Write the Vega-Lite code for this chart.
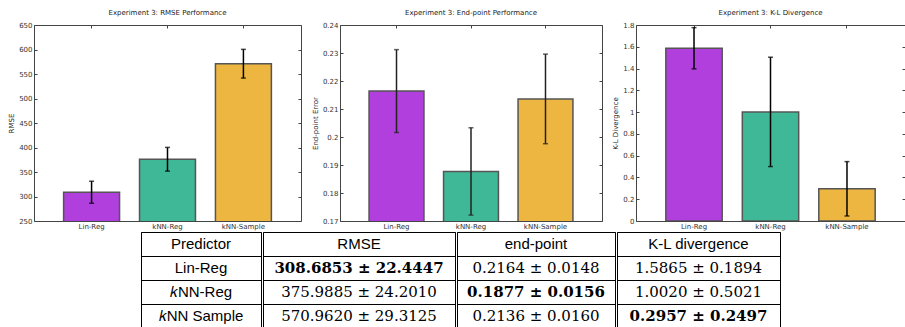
{
  "$schema": "https://vega.github.io/schema/vega-lite/v6.json",
  "padding": {"left": 7, "top": 8, "right": 0, "bottom": 0},
  "background": "white",
  "datasets": {
    "bars": [
      {"predictor": "Lin-Reg", "metric": "RMSE", "value": 308.6853, "err": 22.4447},
      {"predictor": "kNN-Reg", "metric": "RMSE", "value": 375.9885, "err": 24.2010},
      {"predictor": "kNN-Sample", "metric": "RMSE", "value": 570.9620, "err": 29.3125},
      {"predictor": "Lin-Reg", "metric": "endpoint", "value": 0.2164, "err": 0.0148},
      {"predictor": "kNN-Reg", "metric": "endpoint", "value": 0.1877, "err": 0.0156},
      {"predictor": "kNN-Sample", "metric": "endpoint", "value": 0.2136, "err": 0.0160},
      {"predictor": "Lin-Reg", "metric": "KL", "value": 1.5865, "err": 0.1894},
      {"predictor": "kNN-Reg", "metric": "KL", "value": 1.0020, "err": 0.5021},
      {"predictor": "kNN-Sample", "metric": "KL", "value": 0.2957, "err": 0.2497}
    ],
    "table": [
      {"col": "Predictor", "row": "head", "text": "Predictor", "best": false},
      {"col": "Predictor", "row": "r1", "text": "Lin-Reg", "best": false},
      {"col": "Predictor", "row": "r2", "text": "𝑘NN-Reg", "best": false},
      {"col": "Predictor", "row": "r3", "text": "𝑘NN Sample", "best": false},
      {"col": "RMSE", "row": "head", "text": "RMSE", "best": false},
      {"col": "RMSE", "row": "r1", "text": "308.6853 ± 22.4447", "best": true},
      {"col": "RMSE", "row": "r2", "text": "375.9885 ± 24.2010", "best": false},
      {"col": "RMSE", "row": "r3", "text": "570.9620 ± 29.3125", "best": false},
      {"col": "end-point", "row": "head", "text": "end-point", "best": false},
      {"col": "end-point", "row": "r1", "text": "0.2164 ± 0.0148", "best": false},
      {"col": "end-point", "row": "r2", "text": "0.1877 ± 0.0156", "best": true},
      {"col": "end-point", "row": "r3", "text": "0.2136 ± 0.0160", "best": false},
      {"col": "K-L divergence", "row": "head", "text": "K-L divergence", "best": false},
      {"col": "K-L divergence", "row": "r1", "text": "1.5865 ± 0.1894", "best": false},
      {"col": "K-L divergence", "row": "r2", "text": "1.0020 ± 0.5021", "best": false},
      {"col": "K-L divergence", "row": "r3", "text": "0.2957 ± 0.2497", "best": true}
    ]
  },
  "config": {
    "font": "DejaVu Sans",
    "view": {"stroke": "#444", "strokeWidth": 1},
    "title": {"fontSize": 7, "fontWeight": "normal", "font": "DejaVu Sans", "color": "#222", "offset": 5},
    "axis": {"labelFont": "DejaVu Sans", "labelFontSize": 7, "labelColor": "#333", "titleFont": "DejaVu Sans", "titleFontSize": 7, "titleFontWeight": "normal", "titleColor": "#222", "grid": false, "domain": false, "tickColor": "#444", "tickSize": -3, "labelPadding": 5}
  },
  "vconcat": [
    {
      "hconcat": [
        {
          "title": "Experiment 3: RMSE Performance",
          "width": 267, "height": 196,
          "data": {"name": "bars"},
          "transform": [{"filter": "datum.metric === 'RMSE'"}],
          "encoding": {
            "x": {"field": "predictor", "type": "nominal", "sort": ["Lin-Reg", "kNN-Reg", "kNN-Sample"], "scale": {"paddingInner": 0.263, "paddingOuter": 0.39}, "axis": {"title": null, "labelAngle": 0, "labelPadding": 4}}
          },
          "layer": [
            {"mark": {"type": "bar", "stroke": "#555", "strokeWidth": 1.5, "clip": true},
             "encoding": {
               "y": {"field": "value", "type": "quantitative", "scale": {"domain": [250, 650], "zero": false, "nice": false}, "axis": {"title": "RMSE", "values": [250, 300, 350, 400, 450, 500, 550, 600, 650], "format": "d"}},
               "color": {"field": "predictor", "type": "nominal", "scale": {"domain": ["Lin-Reg", "kNN-Reg", "kNN-Sample"], "range": ["#B03FDE", "#3FB897", "#EDB640"]}, "legend": null}
             }},
            {"mark": {"type": "errorbar", "ticks": {"size": 5}, "color": "black", "thickness": 1.5},
             "encoding": {
               "x": {"field": "predictor", "type": "nominal", "sort": ["Lin-Reg", "kNN-Reg", "kNN-Sample"], "axis": {"orient": "top", "labels": false, "title": null}},
               "y": {"field": "value", "type": "quantitative", "axis": {"orient": "right", "labels": false, "title": null, "values": [250, 300, 350, 400, 450, 500, 550, 600, 650]}},
               "yError": {"field": "err"}
             }}
          ],
          "resolve": {"axis": {"x": "independent", "y": "independent"}}
        },
        {
          "title": "Experiment 3: End-point Performance",
          "width": 262, "height": 196,
          "data": {"name": "bars"},
          "transform": [{"filter": "datum.metric === 'endpoint'"}],
          "encoding": {
            "x": {"field": "predictor", "type": "nominal", "sort": ["Lin-Reg", "kNN-Reg", "kNN-Sample"], "scale": {"paddingInner": 0.263, "paddingOuter": 0.39}, "axis": {"title": null, "labelAngle": 0, "labelPadding": 4}}
          },
          "layer": [
            {"mark": {"type": "bar", "stroke": "#555", "strokeWidth": 1.5, "clip": true},
             "encoding": {
               "y": {"field": "value", "type": "quantitative", "scale": {"domain": [0.17, 0.24], "zero": false, "nice": false}, "axis": {"title": "End-point Error", "values": [0.17, 0.18, 0.19, 0.2, 0.21, 0.22, 0.23, 0.24], "format": ".2~f"}},
               "color": {"field": "predictor", "type": "nominal", "scale": {"domain": ["Lin-Reg", "kNN-Reg", "kNN-Sample"], "range": ["#B03FDE", "#3FB897", "#EDB640"]}, "legend": null}
             }},
            {"mark": {"type": "errorbar", "ticks": {"size": 5}, "color": "#222", "thickness": 1.5},
             "encoding": {
               "x": {"field": "predictor", "type": "nominal", "sort": ["Lin-Reg", "kNN-Reg", "kNN-Sample"], "axis": {"orient": "top", "labels": false, "title": null}},
               "y": {"field": "value", "type": "quantitative", "axis": {"orient": "right", "labels": false, "title": null, "values": [0.17, 0.18, 0.19, 0.2, 0.21, 0.22, 0.23, 0.24]}},
               "yError": {"field": "err"}
             }}
          ],
          "resolve": {"axis": {"x": "independent", "y": "independent"}}
        },
        {
          "title": "Experiment 3: K-L Divergence",
          "width": 269, "height": 196,
          "data": {"name": "bars"},
          "transform": [{"filter": "datum.metric === 'KL'"}],
          "encoding": {
            "x": {"field": "predictor", "type": "nominal", "sort": ["Lin-Reg", "kNN-Reg", "kNN-Sample"], "scale": {"paddingInner": 0.263, "paddingOuter": 0.39}, "axis": {"title": null, "labelAngle": 0, "labelPadding": 4}}
          },
          "layer": [
            {"mark": {"type": "bar", "stroke": "#555", "strokeWidth": 1.5, "clip": true},
             "encoding": {
               "y": {"field": "value", "type": "quantitative", "scale": {"domain": [0, 1.8], "nice": false}, "axis": {"title": "K-L Divergence", "values": [0, 0.2, 0.4, 0.6, 0.8, 1, 1.2, 1.4, 1.6, 1.8], "format": ".1~f"}},
               "color": {"field": "predictor", "type": "nominal", "scale": {"domain": ["Lin-Reg", "kNN-Reg", "kNN-Sample"], "range": ["#B03FDE", "#3FB897", "#EDB640"]}, "legend": null}
             }},
            {"mark": {"type": "errorbar", "ticks": {"size": 5}, "color": "black", "thickness": 1.5},
             "encoding": {
               "x": {"field": "predictor", "type": "nominal", "sort": ["Lin-Reg", "kNN-Reg", "kNN-Sample"], "axis": {"orient": "top", "labels": false, "title": null}},
               "y": {"field": "value", "type": "quantitative", "axis": {"orient": "right", "labels": false, "title": null, "values": [0, 0.2, 0.4, 0.6, 0.8, 1, 1.2, 1.4, 1.6, 1.8]}},
               "yError": {"field": "err"}
             }}
          ],
          "resolve": {"axis": {"x": "independent", "y": "independent"}}
        }
      ],
      "spacing": 8
    },
    {
      "hconcat": [
        {"width": 106, "height": 96, "view": {"stroke": null}, "data": {"values": [{"blank": ""}]}, "mark": {"type": "text", "opacity": 0}, "encoding": {"text": {"field": "blank"}}},
        {
          "width": 120, "height": 96,
          "view": {"stroke": "black"},
          "data": {"name": "table"},
          "transform": [{"filter": "datum.col === 'Predictor'"}],
          "encoding": {"y": {"field": "row", "type": "nominal", "scale": {"domain": ["head", "r1", "r2", "r3"], "paddingInner": 0, "paddingOuter": 0}, "axis": {"title": null, "labels": false, "ticks": false, "domain": false, "grid": true, "gridColor": "black", "gridOpacity": 1, "tickBand": "extent", "minExtent": 0, "maxExtent": 0}}},
          "layer": [
            {"mark": {"type": "text", "font": "Liberation Sans", "fontSize": 15, "color": "black", "baseline": "middle"}, "encoding": {"text": {"field": "text"}}}
          ]
        },
        {
          "width": 192, "height": 96,
          "view": {"stroke": "black"},
          "data": {"name": "table"},
          "transform": [{"filter": "datum.col === 'RMSE'"}],
          "encoding": {"y": {"field": "row", "type": "nominal", "scale": {"domain": ["head", "r1", "r2", "r3"], "paddingInner": 0, "paddingOuter": 0}, "axis": {"title": null, "labels": false, "ticks": false, "domain": false, "grid": true, "gridColor": "black", "gridOpacity": 1, "tickBand": "extent", "minExtent": 0, "maxExtent": 0}}},
          "layer": [
            {"transform": [{"filter": "datum.row === 'head'"}], "mark": {"type": "text", "font": "Liberation Sans", "fontSize": 15, "color": "black", "baseline": "middle"}, "encoding": {"text": {"field": "text"}}},
            {"transform": [{"filter": "datum.row !== 'head' && !datum.best"}], "mark": {"type": "text", "font": "DejaVu Serif", "fontSize": 15, "color": "black", "baseline": "middle"}, "encoding": {"text": {"field": "text"}}},
            {"transform": [{"filter": "datum.row !== 'head' && datum.best"}], "mark": {"type": "text", "font": "DejaVu Serif", "fontSize": 15, "fontWeight": "bold", "color": "black", "baseline": "middle"}, "encoding": {"text": {"field": "text"}}}
          ]
        },
        {
          "width": 158, "height": 96,
          "view": {"stroke": "black"},
          "data": {"name": "table"},
          "transform": [{"filter": "datum.col === 'end-point'"}],
          "encoding": {"y": {"field": "row", "type": "nominal", "scale": {"domain": ["head", "r1", "r2", "r3"], "paddingInner": 0, "paddingOuter": 0}, "axis": {"title": null, "labels": false, "ticks": false, "domain": false, "grid": true, "gridColor": "black", "gridOpacity": 1, "tickBand": "extent", "minExtent": 0, "maxExtent": 0}}},
          "layer": [
            {"transform": [{"filter": "datum.row === 'head'"}], "mark": {"type": "text", "font": "Liberation Sans", "fontSize": 15, "color": "black", "baseline": "middle"}, "encoding": {"text": {"field": "text"}}},
            {"transform": [{"filter": "datum.row !== 'head' && !datum.best"}], "mark": {"type": "text", "font": "DejaVu Serif", "fontSize": 15, "color": "black", "baseline": "middle"}, "encoding": {"text": {"field": "text"}}},
            {"transform": [{"filter": "datum.row !== 'head' && datum.best"}], "mark": {"type": "text", "font": "DejaVu Serif", "fontSize": 15, "fontWeight": "bold", "color": "black", "baseline": "middle"}, "encoding": {"text": {"field": "text"}}}
          ]
        },
        {
          "width": 163, "height": 96,
          "view": {"stroke": "black"},
          "data": {"name": "table"},
          "transform": [{"filter": "datum.col === 'K-L divergence'"}],
          "encoding": {"y": {"field": "row", "type": "nominal", "scale": {"domain": ["head", "r1", "r2", "r3"], "paddingInner": 0, "paddingOuter": 0}, "axis": {"title": null, "labels": false, "ticks": false, "domain": false, "grid": true, "gridColor": "black", "gridOpacity": 1, "tickBand": "extent", "minExtent": 0, "maxExtent": 0}}},
          "layer": [
            {"transform": [{"filter": "datum.row === 'head'"}], "mark": {"type": "text", "font": "Liberation Sans", "fontSize": 15, "color": "black", "baseline": "middle"}, "encoding": {"text": {"field": "text"}}},
            {"transform": [{"filter": "datum.row !== 'head' && !datum.best"}], "mark": {"type": "text", "font": "DejaVu Serif", "fontSize": 15, "color": "black", "baseline": "middle"}, "encoding": {"text": {"field": "text"}}},
            {"transform": [{"filter": "datum.row !== 'head' && datum.best"}], "mark": {"type": "text", "font": "DejaVu Serif", "fontSize": 15, "fontWeight": "bold", "color": "black", "baseline": "middle"}, "encoding": {"text": {"field": "text"}}}
          ]
        }
      ],
      "spacing": 0
    }
  ],
  "spacing": 1
}
